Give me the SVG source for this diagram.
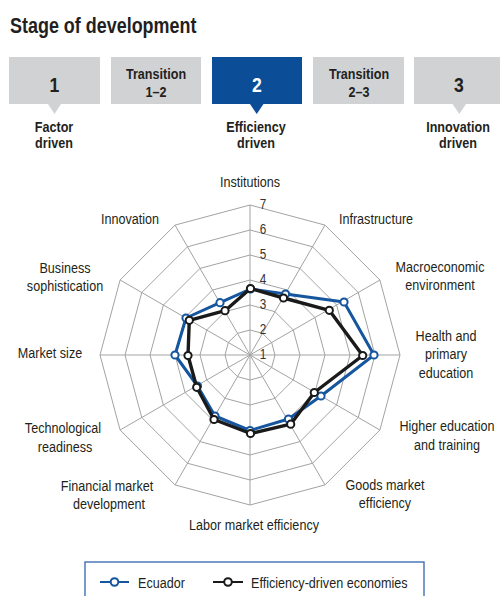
<svg xmlns="http://www.w3.org/2000/svg" width="500" height="596" viewBox="0 0 500 596">
<style>
text{font-family:"Liberation Sans",Arial,sans-serif;fill:#231f20}
.b{font-weight:bold}
.t{font-size:15px}
.lab{font-size:15px;text-anchor:middle}
.num{font-size:14px;text-anchor:middle;fill:#333}
.big{font-size:21px;font-weight:bold;text-anchor:middle}
.box{fill:#d1d2d4}
.boxb{fill:#0c4d98}
.grid{fill:none;stroke:#a3a3a3;stroke-width:1}
.eq{fill:none;stroke:#15569f;stroke-width:3;stroke-linejoin:round}
.ef{fill:none;stroke:#1a1a1a;stroke-width:3.4;stroke-linejoin:round}
.me{fill:#fff;stroke:#15569f;stroke-width:2}
.mf{fill:#fff;stroke:#1a1a1a;stroke-width:2}
</style>
<text transform="translate(10 33) scale(.835 1)" class="b" style="font-size:21.5px">Stage of development</text>
<g id="stage1">
<rect class="box" x="9" y="57" width="91" height="47"/>
<polygon class="box" points="48,104 61,104 54.5,114"/>
<text transform="translate(54.5 92) scale(.84 1)" class="big">1</text>
<text transform="translate(54 132) scale(.84 1)" class="b lab">Factor</text>
<text transform="translate(54 148) scale(.84 1)" class="b lab">driven</text>
</g>
<g id="trans12">
<rect class="box" x="111" y="57" width="90" height="47"/>
<text transform="translate(156 79) scale(.84 1)" class="b lab">Transition</text>
<text transform="translate(156 97) scale(.84 1)" class="b lab">1–2</text>
</g>
<g id="stage2">
<rect class="boxb" x="212" y="57" width="90" height="47"/>
<polygon class="boxb" points="250,104 263.5,104 256.7,114"/>
<text transform="translate(257 92) scale(.84 1)" class="big" style="fill:#fff">2</text>
<text transform="translate(256 132) scale(.84 1)" class="b lab">Efficiency</text>
<text transform="translate(256 148) scale(.84 1)" class="b lab">driven</text>
</g>
<g id="trans23">
<rect class="box" x="313" y="57" width="91" height="47"/>
<text transform="translate(359 79) scale(.84 1)" class="b lab">Transition</text>
<text transform="translate(359 97) scale(.84 1)" class="b lab">2–3</text>
</g>
<g id="stage3">
<rect class="box" x="414" y="57" width="91" height="47"/>
<polygon class="box" points="452.5,104 466,104 459.3,114"/>
<text transform="translate(459 92) scale(.84 1)" class="big">3</text>
<text transform="translate(458 132) scale(.84 1)" class="b lab">Innovation</text>
<text transform="translate(458 148) scale(.84 1)" class="b lab">driven</text>
</g>
<g id="grid">
<polygon class="grid" points="250,330 262.5,333.35 271.65,342.5 275,355 271.65,367.5 262.5,376.65 250,380 237.5,376.65 228.35,367.5 225,355 228.35,342.5 237.5,333.35"/>
<polygon class="grid" points="250,305 275,311.7 293.3,330 300,355 293.3,380 275,398.3 250,405 225,398.3 206.7,380 200,355 206.7,330 225,311.7"/>
<polygon class="grid" points="250,280 287.5,290.05 314.95,317.5 325,355 314.95,392.5 287.5,419.95 250,430 212.5,419.95 185.05,392.5 175,355 185.05,317.5 212.5,290.05"/>
<polygon class="grid" points="250,255 300,268.4 336.6,305 350,355 336.6,405 300,441.6 250,455 200,441.6 163.4,405 150,355 163.4,305 200,268.4"/>
<polygon class="grid" points="250,230 312.5,246.75 358.25,292.5 375,355 358.25,417.5 312.5,463.25 250,480 187.5,463.25 141.75,417.5 125,355 141.75,292.5 187.5,246.75"/>
<polygon class="grid" points="250,205 325,225.1 379.9,280 400,355 379.9,430 325,484.9 250,505 175,484.9 120.1,430 100,355 120.1,280 175,225.1"/>
<path class="grid" d="M250,355L250,205M250,355L325,225.1M250,355L379.9,280M250,355L400,355M250,355L379.9,430M250,355L325,484.9M250,355L250,505M250,355L175,484.9M250,355L120.1,430M250,355L100,355M250,355L120.1,280M250,355L175,225.1"/>
<text transform="translate(263 359) scale(.84 1)" class="num">1</text>
<text transform="translate(263 334) scale(.84 1)" class="num">2</text>
<text transform="translate(263 309) scale(.84 1)" class="num">3</text>
<text transform="translate(263 284) scale(.84 1)" class="num">4</text>
<text transform="translate(263 259) scale(.84 1)" class="num">5</text>
<text transform="translate(263 234) scale(.84 1)" class="num">6</text>
<text transform="translate(263 209) scale(.84 1)" class="num">7</text>
</g>
<g id="axis-labels">
<text transform="translate(250 187) scale(.84 1)" class="lab">Institutions</text>
<text transform="translate(376 224) scale(.84 1)" class="lab">Infrastructure</text>
<text transform="translate(440 272) scale(.84 1)" class="lab">Macroeconomic</text>
<text transform="translate(440 290) scale(.84 1)" class="lab">environment</text>
<text transform="translate(446 341) scale(.84 1)" class="lab">Health and</text>
<text transform="translate(446 359) scale(.84 1)" class="lab">primary</text>
<text transform="translate(446 378) scale(.84 1)" class="lab">education</text>
<text transform="translate(447 431) scale(.84 1)" class="lab">Higher education</text>
<text transform="translate(447 450) scale(.84 1)" class="lab">and training</text>
<text transform="translate(385 490) scale(.84 1)" class="lab">Goods market</text>
<text transform="translate(385 508) scale(.84 1)" class="lab">efficiency</text>
<text transform="translate(254 530) scale(.84 1)" class="lab">Labor market efficiency</text>
<text transform="translate(107 491) scale(.84 1)" class="lab">Financial market</text>
<text transform="translate(109 509) scale(.84 1)" class="lab">development</text>
<text transform="translate(63 433) scale(.84 1)" class="lab">Technological</text>
<text transform="translate(65 452) scale(.84 1)" class="lab">readiness</text>
<text transform="translate(50 358) scale(.84 1)" class="lab">Market size</text>
<text transform="translate(65 273) scale(.84 1)" class="lab">Business</text>
<text transform="translate(65 291) scale(.84 1)" class="lab">sophistication</text>
<text transform="translate(130 224) scale(.84 1)" class="lab">Innovation</text>
</g>
<g id="series-ecuador">
<polygon class="eq" points="250.5,289 285.5,294 344,302 374,355 321,396 288.5,419 250,430.5 215,416 197.5,386 175,355 186,318 220,302.7"/>
<g class="me">
<circle cx="250.5" cy="289" r="3.6"/><circle cx="285.5" cy="294" r="3.6"/><circle cx="344" cy="302" r="3.6"/><circle cx="374" cy="355" r="3.6"/><circle cx="321" cy="396" r="3.6"/><circle cx="288.5" cy="419" r="3.6"/><circle cx="250" cy="430.5" r="3.6"/><circle cx="215" cy="416" r="3.6"/><circle cx="197.5" cy="386" r="3.6"/><circle cx="175" cy="355" r="3.6"/><circle cx="186" cy="318" r="3.6"/><circle cx="220" cy="302.7" r="3.6"/>
</g>
</g>
<g id="series-efficiency">
<polygon class="ef" points="250.5,288.5 283.5,298 329.3,310.3 362.7,355.5 314.3,392.5 290.7,424.2 250.5,433.5 214,419.5 196.7,387.3 188,355.5 189.3,320.3 225,310.7"/>
<g class="mf">
<circle cx="250.5" cy="288.5" r="3.6"/><circle cx="283.5" cy="298" r="3.6"/><circle cx="329.3" cy="310.3" r="3.6"/><circle cx="362.7" cy="355.5" r="3.6"/><circle cx="314.3" cy="392.5" r="3.6"/><circle cx="290.7" cy="424.2" r="3.6"/><circle cx="250.5" cy="433.5" r="3.6"/><circle cx="214" cy="419.5" r="3.6"/><circle cx="196.7" cy="387.3" r="3.6"/><circle cx="188" cy="355.5" r="3.6"/><circle cx="189.3" cy="320.3" r="3.6"/><circle cx="225" cy="310.7" r="3.6"/>
</g>
</g>
<g id="legend">
<rect x="85" y="562" width="339" height="44" fill="#fff" stroke="#3264ad" stroke-width="1.3"/>
<line x1="100" y1="582" x2="129" y2="582" stroke="#15569f" stroke-width="2"/>
<circle cx="114.5" cy="582" r="3.8" class="me"/>
<text transform="translate(138 588) scale(.84 1)" class="t">Ecuador</text>
<line x1="213" y1="582" x2="243" y2="582" stroke="#1a1a1a" stroke-width="2"/>
<circle cx="228" cy="582" r="3.8" class="mf"/>
<text transform="translate(251 588) scale(.84 1)" class="t">Efficiency-driven economies</text>
</g>
</svg>
